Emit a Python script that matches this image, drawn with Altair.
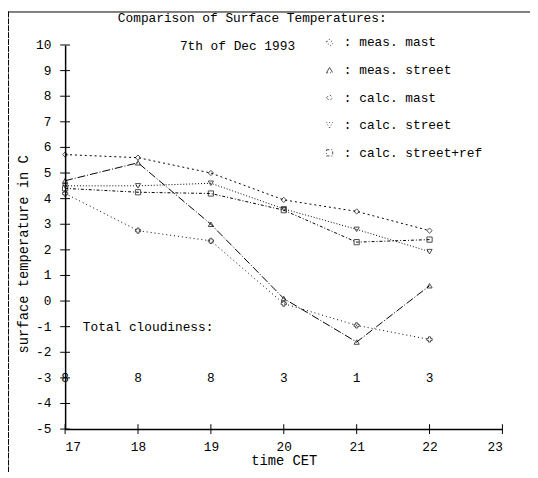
import altair as alt
import pandas as pd

hours = [17, 18, 19, 20, 21, 22]
series_names = ["meas. mast", "meas. street", "calc. mast", "calc. street", "calc. street+ref"]
meas_mast = [4.2, 2.75, 2.35, -0.1, -0.95, -1.5]
meas_street = [4.7, 5.4, 3.0, 0.1, -1.6, 0.6]
calc_mast = [5.72, 5.6, 5.0, 3.95, 3.5, 2.75]
calc_street = [4.5, 4.5, 4.6, 3.6, 2.8, 1.93]
calc_street_ref = [4.4, 4.25, 4.2, 3.55, 2.3, 2.4]
cloudiness = ["8", "8", "8", "3", "1", "3"]
x_ticks = [17, 18, 19, 20, 21, 22, 23]
y_ticks = list(range(-5, 11))
y_tick_labels = [str(v) for v in y_ticks]

FONT = "Liberation Mono"
W, H = 444, 390

rows = []
for name, vals in zip(series_names, [meas_mast, meas_street, calc_mast, calc_street, calc_street_ref]):
    for h, v in zip(hours, vals):
        rows.append({"hour": h, "temp": v, "series": name, "line": name})
df = pd.DataFrame(rows)

xs = alt.Scale(domain=[17, 23], nice=False)
ys = alt.Scale(domain=[-5, 10], nice=False)

x_axis = alt.Axis(
    values=x_ticks, format="d", ticks=False, grid=False, domainColor="black", labelColor="black",
    labelFont=FONT, labelFontSize=13, labelPadding=12, labelOverlap=False, title="time CET",
    titleFont=FONT, titleFontSize=14, titleFontWeight="normal", titleColor="black",
    titlePadding=0)
y_axis = alt.Axis(
    values=y_ticks, ticks=False, grid=False, domainColor="black", labels=False,
    title="surface temperature in C",
    titleFont=FONT, titleFontSize=14, titleFontWeight="normal", titleColor="black",
    titleX=-42, titleY=212, titleAngle=-90, titleBaseline="middle", titleAlign="center")

def X(field):
    return alt.X(field, scale=xs, axis=x_axis, title="time CET")

def Y(field):
    return alt.Y(field, scale=ys, axis=y_axis, title="surface temperature in C")

dashes = [[1, 3], [8, 2, 1, 2], [2, 3], [1, 2], [3, 2, 1, 2]]
shapes = ["cross", "triangle-up", "diamond", "triangle-down", "square"]
NB = "\u00a0"

points = alt.Chart(df).mark_point(filled=False, color="black", size=28, strokeWidth=1).encode(
    x=X("hour:Q"), y=Y("temp:Q"),
    shape=alt.Shape("series:N", scale=alt.Scale(domain=series_names, range=shapes),
                    legend=alt.Legend(orient="none", legendX=262, legendY=-9, title=None,
                                      labelFont=FONT, labelFontSize=13, labelColor="black",
                                      labelExpr=f"':{NB}' + datum.label",
                                      symbolSize=40,
                                      symbolStrokeColor="black", symbolFillColor="transparent",
                                      symbolStrokeWidth=1, rowPadding=14, labelOffset=8)))

lines = alt.Chart(df).mark_line(color="black", strokeWidth=1).encode(
    x=X("hour:Q"), y=Y("temp:Q"),
    strokeDash=alt.StrokeDash("line:N", scale=alt.Scale(domain=series_names, range=dashes), legend=None),
    detail="line:N")

ytick_df = pd.DataFrame({"hour": [17] * len(y_ticks), "temp": y_ticks, "lab": y_tick_labels})
xtick_df = pd.DataFrame({"hour": x_ticks, "temp": [-5] * len(x_ticks)})
yticks = alt.Chart(ytick_df).mark_rule(color="black", strokeWidth=1).encode(
    y=Y("temp:Q"), x=alt.value(-5), x2=alt.value(5))
ylabels = alt.Chart(ytick_df).mark_text(font=FONT, fontSize=13, color="black", align="right",
                                        baseline="middle").encode(
    y=Y("temp:Q"), x=alt.value(-14), text="lab:N")
xticks = alt.Chart(xtick_df).mark_rule(color="black", strokeWidth=1).encode(
    x=X("hour:Q"), y=alt.value(H - 5), y2=alt.value(H + 5))

cloud_df = pd.DataFrame({"hour": hours, "c": cloudiness})
cloud = alt.Chart(cloud_df).mark_text(font=FONT, fontSize=13, color="black").encode(
    x=X("hour:Q"), y=alt.datum(-3), text="c:N")

ann_df = pd.DataFrame({"t": ["Total cloudiness:"]})
cloud_label = alt.Chart(ann_df).mark_text(font=FONT, fontSize=13, color="black", align="left").encode(
    x=alt.value(18), y=alt.datum(-1), text="t:N")

title_df = pd.DataFrame({"t": ["Comparison of Surface Temperatures:"]})
title = alt.Chart(title_df).mark_text(font=FONT, fontSize=13, color="black").encode(
    x=alt.value(190), y=alt.value(-27), text="t:N")
sub_df = pd.DataFrame({"t": ["7th of Dec 1993"]})
subtitle = alt.Chart(sub_df).mark_text(font=FONT, fontSize=13, color="black").encode(
    x=alt.value(175), y=alt.value(1), text="t:N")

frame_top = alt.Chart(title_df).mark_rule(color="black", strokeWidth=1).encode(
    x=alt.value(-58), x2=alt.value(472), y=alt.value(-33.5))
frame_left = alt.Chart(title_df).mark_rule(color="black", strokeWidth=1, strokeDash=[6, 1]).encode(
    x=alt.value(-57.5), y=alt.value(-34), y2=alt.value(436))

chart = alt.layer(points, lines, yticks, ylabels, xticks, cloud, cloud_label, title, subtitle,
                  frame_top, frame_left).properties(
    width=W, height=H,
    autosize=alt.AutoSizeParams(type="none"),
    padding={"left": 58, "top": 34, "right": 28, "bottom": 40},
).configure_view(stroke=None).configure_axis(domainWidth=1.5)

chart.save("out.html", embed_options={"renderer": "svg", "actions": False})
